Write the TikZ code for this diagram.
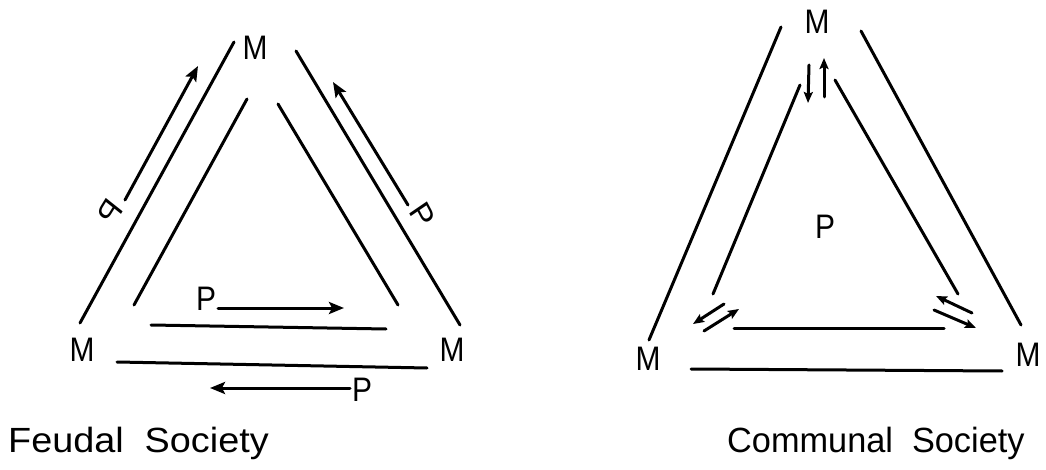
\documentclass[tikz,border=0pt]{standalone}
\usepackage{fontspec}
\setmainfont{Liberation Sans}
\usetikzlibrary{arrows.meta}
\begin{document}
\begin{tikzpicture}[x=1pt,y=-1pt,
  ln/.style={line width=3pt,line cap=round},
  arr/.style={line width=3pt,line cap=round,-{Stealth[length=15pt,width=12pt,inset=3pt]}},
  sarr/.style={line width=3pt,line cap=round,-{Stealth[length=11pt,width=9pt,inset=2pt]}},
  lab/.style={font=\fontsize{34}{34}\selectfont,inner sep=0pt,xscale=0.88},
  ttl/.style={font=\fontsize{35}{35}\selectfont,inner sep=0pt,anchor=base west}]
\useasboundingbox (0,0) rectangle (1046,470);
% ---------- Feudal society ----------
\node[lab] (fM1) at (255,48) {M};
\node[lab] (fM2) at (82,350) {M};
\node[lab] (fM3) at (452,350) {M};
\coordinate (a1) at (80,323);  \coordinate (a2) at (234,42);
\coordinate (b1) at (134,305); \coordinate (b2) at (247,99);
\coordinate (c1) at (278,104); \coordinate (c2) at (398,305);
\coordinate (d1) at (296,51);  \coordinate (d2) at (460,325);
\coordinate (e1) at (151,325); \coordinate (e2) at (386,329);
\coordinate (f1) at (117,362); \coordinate (f2) at (427,368);
\draw[ln] (a1) -- (a2);
\draw[ln] (b1) -- (b2);
\draw[ln] (c1) -- (c2);
\draw[ln] (d1) -- (d2);
\draw[ln] (e1) -- (e2);
\draw[ln] (f1) -- (f2);
% arrows with P
\coordinate (g1) at (125,200); \coordinate (g2) at (198,66);
\draw[arr] (g1) -- (g2);
\node[lab,rotate=55] (fP1) at (110,212) {\reflectbox{P}};
\coordinate (h1) at (408,205); \coordinate (h2) at (333,82);
\draw[arr] (h1) -- (h2);
\node[lab,rotate=-59] (fP2) at (422,215) {P};
\node[lab,anchor=south west] (fP3) at (196,311) {P};
\coordinate (i1) at (218,308); \coordinate (i2) at (344,308);
\draw[arr] (i1) -- (i2);
\node[lab,anchor=south] (fP4) at (362,402) {P};
\coordinate (j1) at (350,388); \coordinate (j2) at (210,388);
\draw[arr] (j1) -- (j2);
\node[ttl,xscale=1.08] (ft) at (8,452) {Feudal\ \ Society};
% ---------- Communal society ----------
\node[lab] (cM1) at (817,22) {M};
\node[lab] (cM2) at (648,359) {M};
\node[lab] (cM3) at (1028,355) {M};
\node[lab] (cP) at (825,227) {P};
\coordinate (k1) at (781,27);  \coordinate (k2) at (649,340);
\coordinate (l1) at (861,31);  \coordinate (l2) at (1021,325);
\coordinate (m1) at (800,85);  \coordinate (m2) at (713,294);
\coordinate (n1) at (835,80);  \coordinate (n2) at (958,294);
\coordinate (o1) at (734,328); \coordinate (o2) at (944,328);
\coordinate (p1) at (691,369); \coordinate (p2) at (1002,371);
\draw[ln] (k1) -- (k2);
\draw[ln] (l1) -- (l2);
\draw[ln] (m1) -- (m2);
\draw[ln] (n1) -- (n2);
\draw[ln] (o1) -- (o2);
\draw[ln] (p1) -- (p2);
\coordinate (q1) at (809,65);  \coordinate (q2) at (808,103);
\coordinate (r1) at (824,97);  \coordinate (r2) at (824,58);
\draw[sarr] (q1) -- (q2);
\draw[sarr] (r1) -- (r2);
\coordinate (s1) at (724,304); \coordinate (s2) at (693,324);
\coordinate (t1) at (704,331); \coordinate (t2) at (739,309);
\draw[sarr] (s1) -- (s2);
\draw[sarr] (t1) -- (t2);
\coordinate (u1) at (972,313); \coordinate (u2) at (936,296);
\coordinate (v1) at (934,310); \coordinate (v2) at (976,328);
\draw[sarr] (u1) -- (u2);
\draw[sarr] (v1) -- (v2);
\node[ttl,xscale=0.98] (ct) at (727,452) {Communal\ \ Society};
\end{tikzpicture}
\end{document}
